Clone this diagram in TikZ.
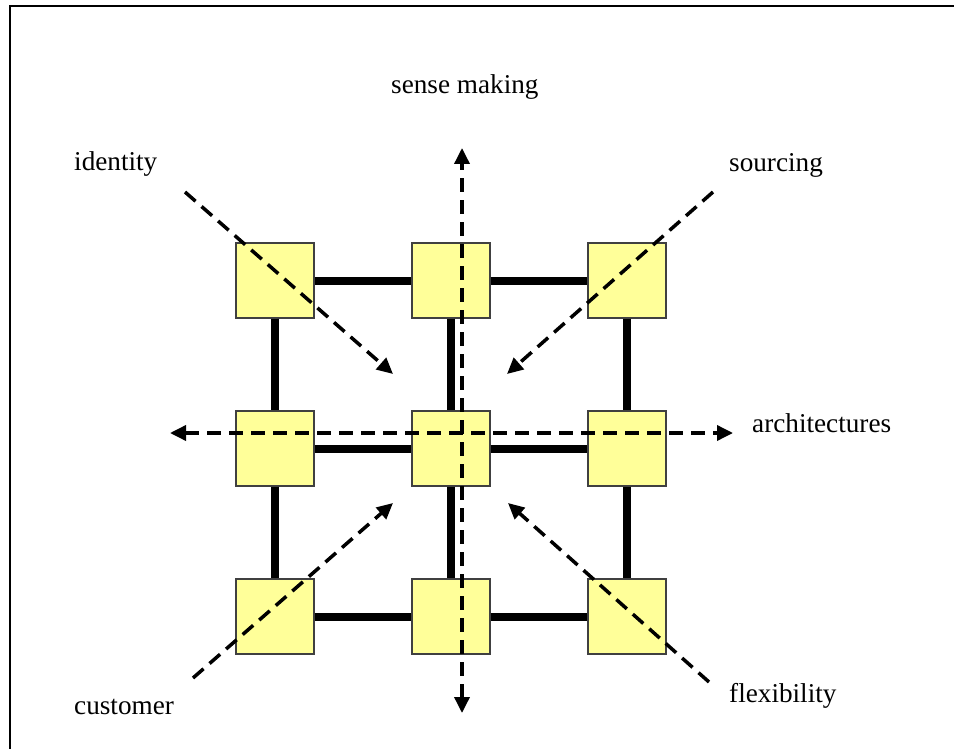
\documentclass[tikz,border=0pt]{standalone}
\usepackage{fontspec}
\setmainfont{Liberation Serif}
\usetikzlibrary{arrows.meta}
\definecolor{cellfill}{HTML}{FFFF99}
\definecolor{celledge}{HTML}{404040}
\begin{document}
\begin{tikzpicture}[x=1pt,y=-1pt,
  cell/.style={draw=celledge, line width=1.2pt, fill=cellfill, minimum width=78pt, minimum height=75pt, inner sep=0pt},
  link/.style={line width=8pt},
  dline/.style={line width=3.5pt, dash pattern=on 14pt off 8pt, -{Triangle[length=16pt,width=15pt]}},
  dline2/.style={line width=3.5pt, dash pattern=on 14pt off 8pt, {Triangle[length=16pt,width=15pt]}-{Triangle[length=16pt,width=15pt]}},
  lab/.style={font=\fontsize{27.2}{32}\selectfont, inner sep=0pt, anchor=base west}]
\useasboundingbox (0,0) rectangle (954,749);
\draw[line width=2pt] (10,749) -- (10,6) -- (954,6);
% cells
\node[cell] (c11) at (275,280.5) {};
\node[cell] (c12) at (451,280.5) {};
\node[cell] (c13) at (627,280.5) {};
\node[cell] (c21) at (275,448.5) {};
\node[cell] (c22) at (451,448.5) {};
\node[cell] (c23) at (627,448.5) {};
\node[cell] (c31) at (275,616.5) {};
\node[cell] (c32) at (451,616.5) {};
\node[cell] (c33) at (627,616.5) {};
% links between cells
\draw[link] (c11) -- (c12);
\draw[link] (c12) -- (c13);
\draw[link] (c21) -- (c22);
\draw[link] (c22) -- (c23);
\draw[link] (c31) -- (c32);
\draw[link] (c32) -- (c33);
\draw[link] (c11) -- (c21);
\draw[link] (c21) -- (c31);
\draw[link] (c12) -- (c22);
\draw[link] (c22) -- (c32);
\draw[link] (c13) -- (c23);
\draw[link] (c23) -- (c33);
% end points of dashed arrows
\coordinate (vt) at (462,148);
\coordinate (vb) at (462,713);
\coordinate (hl) at (170,433);
\coordinate (hr) at (733,433);
\coordinate (idS) at (185,192);
\coordinate (idE) at (393,374);
\coordinate (soS) at (713,192);
\coordinate (soE) at (507,374);
\coordinate (cuS) at (193,678);
\coordinate (cuE) at (393,503);
\coordinate (flS) at (709,682);
\coordinate (flE) at (508,503);
\draw[dline2] (vb) -- (vt);
\draw[dline2] (hl) -- (hr);
\draw[dline] (idS) -- (idE);
\draw[dline] (soS) -- (soE);
\draw[dline] (cuS) -- (cuE);
\draw[dline] (flS) -- (flE);
% labels
\node[lab] (lsense) at (391,94) {sense making};
\node[lab] (lid) at (74,171) {identity};
\node[lab] (lsrc) at (729,172) {sourcing};
\node[lab] (larch) at (752,432) {architectures};
\node[lab] (lflex) at (729,702) {flexibility};
\node[lab] (lcust) at (74,714) {customer};
\end{tikzpicture}
\end{document}
